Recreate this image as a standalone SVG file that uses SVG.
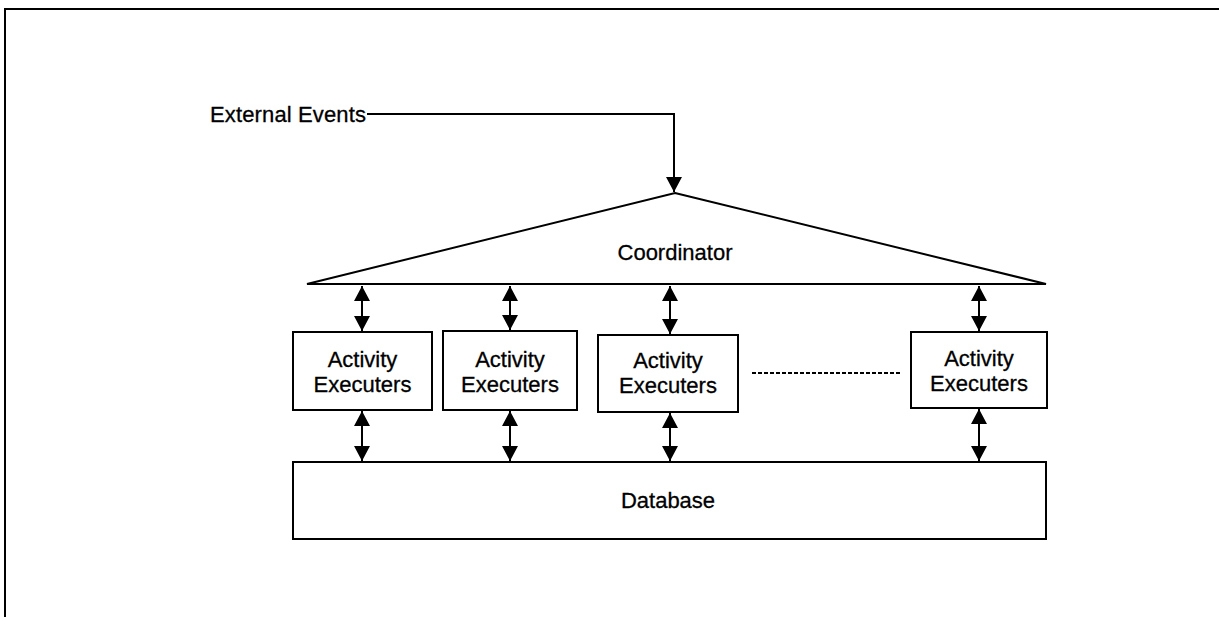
<svg xmlns="http://www.w3.org/2000/svg" width="1219" height="617" viewBox="0 0 1219 617">
<style>
.ln{stroke:#000;stroke-width:2;fill:none}
.bx{stroke:#000;stroke-width:2;fill:#fff}
.t{font-family:"Liberation Sans",Arial,sans-serif;font-size:22px;fill:#000;text-anchor:middle;stroke:#000;stroke-width:0.3}
</style>
<defs>
<marker id="ah" markerUnits="userSpaceOnUse" markerWidth="16" markerHeight="16" viewBox="0 0 16 16" refX="15" refY="8" orient="auto-start-reverse">
<path d="M0,0 L15,8 L0,16 Z" fill="#000"/>
</marker>
</defs>
<rect width="1219" height="617" fill="#fff"/>
<g id="frame">
<path class="ln" d="M5,617 L5,9 L1219,9"/>
</g>
<g id="external-events">
<text class="t" x="210" y="122" style="text-anchor:start" textLength="156">External Events</text>
</g>
<g id="coordinator">
<polygon class="bx" points="675,193 1046,284 307,284"/>
<text class="t" x="675" y="260">Coordinator</text>
</g>
<g id="ae1">
<rect class="bx" x="293" y="332" width="139" height="78"/>
<text class="t" x="362.5" y="367">Activity</text>
<text class="t" x="362.5" y="392">Executers</text>
</g>
<g id="ae2">
<rect class="bx" x="443" y="331" width="134" height="79"/>
<text class="t" x="510" y="367">Activity</text>
<text class="t" x="510" y="392">Executers</text>
</g>
<g id="ae3">
<rect class="bx" x="598" y="335" width="140" height="77"/>
<text class="t" x="668" y="368">Activity</text>
<text class="t" x="668" y="393">Executers</text>
</g>
<g id="ae4">
<rect class="bx" x="911" y="332" width="136" height="76"/>
<text class="t" x="979" y="366">Activity</text>
<text class="t" x="979" y="391">Executers</text>
</g>
<g id="database">
<rect class="bx" x="293" y="462" width="753" height="77"/>
<text class="t" x="668" y="508">Database</text>
</g>
<g id="connectors">
<path class="ln" d="M367,114 L674,114 L674,192" marker-end="url(#ah)"/>
<path class="ln" d="M362,286 L362,331" marker-start="url(#ah)" marker-end="url(#ah)"/>
<path class="ln" d="M510,286 L510,330" marker-start="url(#ah)" marker-end="url(#ah)"/>
<path class="ln" d="M670,286 L670,334" marker-start="url(#ah)" marker-end="url(#ah)"/>
<path class="ln" d="M979,286 L979,331" marker-start="url(#ah)" marker-end="url(#ah)"/>
<path class="ln" d="M362,411 L362,461" marker-start="url(#ah)" marker-end="url(#ah)"/>
<path class="ln" d="M510,411 L510,461" marker-start="url(#ah)" marker-end="url(#ah)"/>
<path class="ln" d="M670,413 L670,461" marker-start="url(#ah)" marker-end="url(#ah)"/>
<path class="ln" d="M979,409 L979,461" marker-start="url(#ah)" marker-end="url(#ah)"/>
<path class="ln" d="M752,373 L902,373" stroke-dasharray="4,2"/>
</g>
</svg>
